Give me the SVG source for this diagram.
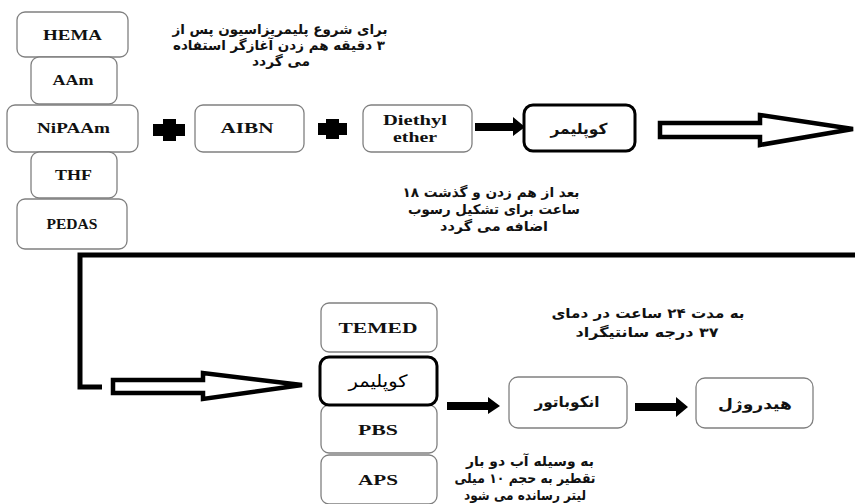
<svg xmlns="http://www.w3.org/2000/svg" width="855" height="504" viewBox="0 0 855 504">
<style>
.box{fill:#fff;stroke:#808080;stroke-width:1.3}
.bold{fill:#fff;stroke:#000;stroke-width:3}
.lat{font-family:"Liberation Serif","Times New Roman",serif;font-weight:bold;font-size:15px;fill:#111;text-anchor:middle}
.fa{font-family:"DejaVu Sans","Noto Sans",sans-serif;font-weight:bold;font-size:15px;fill:#111;text-anchor:middle;direction:rtl}
.note{font-family:"DejaVu Sans","Noto Sans",sans-serif;font-weight:bold;font-size:13.5px;fill:#111;text-anchor:middle;direction:rtl}
.fan{font-family:"DejaVu Sans","Noto Sans",sans-serif;font-size:17px;fill:#000;text-anchor:middle;direction:rtl}
.hollow{fill:#fff;stroke:#000;stroke-width:4.5;stroke-linejoin:miter}
.solid{fill:#000;stroke:none}
.line{fill:none;stroke:#000;stroke-width:5}
</style>
<rect width="855" height="504" fill="#fff"/>

<g id="connectors">
  <polyline class="line" points="855,255 80,255 80,387 102,387"/>
  <polygon class="hollow" points="660,123 760,123 760,115 853,129 760,145 760,137 660,137"/>
  <polygon class="hollow" points="113,380 203,380 203,373 302,385 203,399 203,393 113,393"/>
  <polygon class="solid" points="475,123 513,123 513,117 525,127 513,136 513,131 475,131"/>
  <polygon class="solid" points="447,402 488,402 488,397 500,406 488,414 488,410 447,410"/>
  <polygon class="solid" points="635,403 676,403 676,397 688,407 676,417 676,411 635,411"/>
  <polygon class="solid" points="153,124 163,124 163,119 176,119 176,124 185,124 185,136 176,136 176,141 163,141 163,136 153,136"/>
  <polygon class="solid" points="318,123 326,123 326,119 339,119 339,123 347,123 347,135 339,135 339,139 326,139 326,135 318,135"/>
</g>

<g id="node-hema"><rect class="box" x="17" y="12" width="111" height="45" rx="8"/><text class="lat" x="72.5" y="40" textLength="59" lengthAdjust="spacingAndGlyphs">HEMA</text></g>
<g id="node-aam"><rect class="box" x="31" y="57" width="86" height="47" rx="8"/><text class="lat" x="73" y="85" textLength="41" lengthAdjust="spacingAndGlyphs">AAm</text></g>
<g id="node-nipaam"><rect class="box" x="7" y="105" width="131" height="47" rx="8"/><text class="lat" x="73.5" y="133" textLength="73" lengthAdjust="spacingAndGlyphs">NiPAAm</text></g>
<g id="node-thf"><rect class="box" x="31" y="152" width="86" height="46" rx="8"/><text class="lat" x="73.5" y="180" textLength="37" lengthAdjust="spacingAndGlyphs">THF</text></g>
<g id="node-pedas"><rect class="box" x="17" y="199" width="110" height="50" rx="8"/><text class="lat" x="72" y="229" textLength="51" lengthAdjust="spacingAndGlyphs">PEDAS</text></g>
<g id="node-aibn"><rect class="box" x="195" y="105" width="109" height="47" rx="8"/><text class="lat" x="247" y="133" textLength="53" lengthAdjust="spacingAndGlyphs">AIBN</text></g>
<g id="node-ether"><rect class="box" x="363" y="105" width="109" height="47" rx="8"/><text class="lat" x="415" y="125" textLength="64" lengthAdjust="spacingAndGlyphs">Diethyl</text><text class="lat" x="415" y="142" textLength="44" lengthAdjust="spacingAndGlyphs">ether</text></g>
<g id="node-copolymer1"><rect class="bold" x="524" y="105" width="111" height="46" rx="9"/><text class="fa" x="579" y="134" textLength="57" lengthAdjust="spacingAndGlyphs">کوپلیمر</text></g>

<g id="node-temed"><rect class="box" x="321" y="303" width="116" height="49" rx="8"/><text class="lat" x="378" y="333" textLength="79" lengthAdjust="spacingAndGlyphs">TEMED</text></g>
<g id="node-pbs"><rect class="box" x="321" y="405" width="116" height="48" rx="8"/><text class="lat" x="378" y="435" textLength="40" lengthAdjust="spacingAndGlyphs">PBS</text></g>
<g id="node-aps"><rect class="box" x="321" y="455" width="116" height="49" rx="8"/><text class="lat" x="378" y="485" textLength="40" lengthAdjust="spacingAndGlyphs">APS</text></g>
<g id="node-copolymer2"><rect class="bold" x="320" y="357" width="117" height="48" rx="9"/><text class="fan" x="378" y="387" textLength="59" lengthAdjust="spacingAndGlyphs">کوپلیمر</text></g>
<g id="node-incubator"><rect class="box" x="509" y="377" width="118" height="51" rx="9"/><text class="fa" x="567" y="407" textLength="65" lengthAdjust="spacingAndGlyphs">انکوباتور</text></g>
<g id="node-hydrogel"><rect class="box" x="696" y="378" width="117" height="50" rx="9"/><text class="fa" x="755" y="409" textLength="74" lengthAdjust="spacingAndGlyphs">هیدروژل</text></g>

<g id="notes">
  <text class="note" x="280" y="34" textLength="215" lengthAdjust="spacingAndGlyphs">برای شروع پلیمریزاسیون پس از</text>
  <text class="note" x="279" y="50" textLength="212" lengthAdjust="spacingAndGlyphs">۳ دقیقه هم زدن آغازگر استفاده</text>
  <text class="note" x="281" y="66" textLength="58" lengthAdjust="spacingAndGlyphs">می گردد</text>

  <text class="note" x="491" y="197" textLength="177" lengthAdjust="spacingAndGlyphs">بعد از هم زدن و گذشت ۱۸</text>
  <text class="note" x="494" y="214" textLength="172" lengthAdjust="spacingAndGlyphs">ساعت برای تشکیل رسوب</text>
  <text class="note" x="494" y="231" textLength="108" lengthAdjust="spacingAndGlyphs">اضافه می گردد</text>

  <text class="note" x="648" y="318" textLength="193" lengthAdjust="spacingAndGlyphs">به مدت ۲۴ ساعت در دمای</text>
  <text class="note" x="647" y="337" textLength="143" lengthAdjust="spacingAndGlyphs">۳۷ درجه سانتیگراد</text>

  <text class="note" x="530" y="466" textLength="128" lengthAdjust="spacingAndGlyphs">به وسیله آب دو بار</text>
  <text class="note" x="525" y="483" textLength="141" lengthAdjust="spacingAndGlyphs">تقطیر به حجم ۱۰ میلی</text>
  <text class="note" x="525" y="500" textLength="122" lengthAdjust="spacingAndGlyphs">لیتر رسانده می شود</text>
</g>
</svg>
